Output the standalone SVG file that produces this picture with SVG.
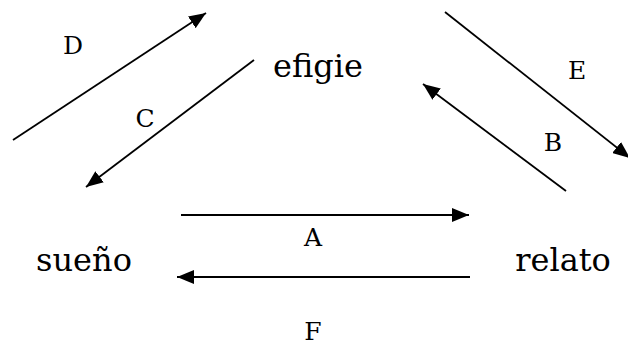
<svg xmlns="http://www.w3.org/2000/svg" width="628" height="345" viewBox="0 0 628 345">
<style>
.w{font-family:"DejaVu Serif","Liberation Serif",serif;font-size:32px;fill:#000;text-anchor:middle}
.l{font-family:"DejaVu Serif","Liberation Serif",serif;font-size:25px;fill:#000;text-anchor:middle}
.c{stroke:#000;stroke-width:1.8;fill:none;marker-end:url(#ah)}
</style>
<defs>
<marker id="ah" markerUnits="userSpaceOnUse" markerWidth="18" markerHeight="14" refX="17" refY="7" orient="auto">
<path d="M0,0 L17,7 L0,14 Z" fill="#000"/>
</marker>
</defs>
<g id="efigie"><text class="w" x="318" y="77">efigie</text></g>
<g id="sueno"><text class="w" x="84" y="271">sueño</text></g>
<g id="relato"><text class="w" x="563" y="271">relato</text></g>
<g id="connectors">
<line class="c" x1="181" y1="215" x2="469" y2="215"/>
<line class="c" x1="470" y1="277" x2="177" y2="277"/>
<line class="c" x1="566" y1="191" x2="423" y2="84"/>
<line class="c" x1="445" y1="12" x2="630" y2="158"/>
<line class="c" x1="254" y1="60" x2="86" y2="187"/>
<line class="c" x1="13" y1="140" x2="206" y2="13"/>
<text class="l" x="313" y="246">A</text>
<text class="l" x="313" y="340">F</text>
<text class="l" x="553" y="151">B</text>
<text class="l" x="577" y="79">E</text>
<text class="l" x="145" y="127">C</text>
<text class="l" x="73" y="54">D</text>
</g>
</svg>
